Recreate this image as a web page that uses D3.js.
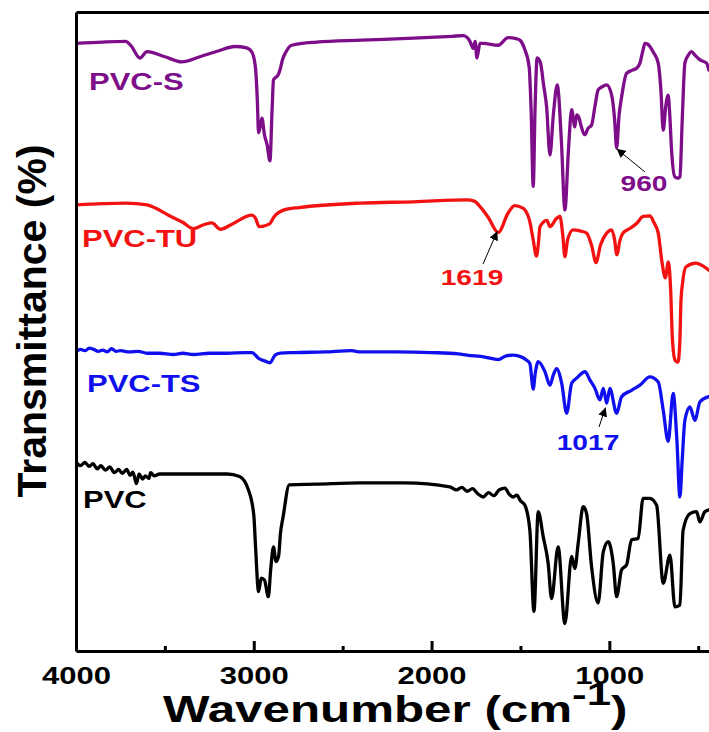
<!DOCTYPE html>
<html><head><meta charset="utf-8">
<script src="https://cdn.jsdelivr.net/npm/d3@7"></script>
<style>html,body{margin:0;padding:0;background:#fff;} svg{display:block;}</style>
</head><body><svg id="c" width="709" height="732"></svg>
<script>
// ---------- data ----------
const seriesNames  = ["PVC-S", "PVC-TU", "PVC-TS", "PVC"];
const seriesColors = ["#7e0d8a", "#f21212", "#1010ee", "#000000"];

// [wavenumber (cm-1), transmittance (a.u., offset)]
const pvcS = [[4000,95.1],[3850,95.3],[3720,95.4],[3690,94.7],[3640,92.8],[3601,93.8],[3500,93.0],[3405,92.2],[3303,93.0],[3200,93.9],[3106,94.6],[3040,94.4],[3010,93.7],[2991,91.4],[2980,86.2],[2973,81.1],[2962,82.3],[2954,83.4],[2940,80.8],[2925,79.2],[2909,76.7],[2897,84.7],[2889,89.4],[2875,89.8],[2864,90.1],[2850,91.2],[2839,92.5],[2820,93.7],[2787,94.8],[2647,95.3],[2393,95.6],[2100,95.9],[1885,96.2],[1821,96.3],[1784,95.4],[1766,94.3],[1755,95.4],[1745,92.8],[1728,95.1],[1709,95.1],[1625,94.8],[1569,96.0],[1520,95.8],[1503,95.6],[1475,94.1],[1451,91.4],[1440,84.7],[1428,72.7],[1418,84.7],[1406,92.8],[1387,92.0],[1370,88.6],[1353,85.2],[1334,77.6],[1315,83.9],[1293,88.6],[1270,80.0],[1250,69.0],[1230,78.4],[1212,84.7],[1194,82.0],[1184,83.9],[1170,83.4],[1160,82.3],[1137,80.8],[1120,81.8],[1100,82.3],[1080,85.4],[1063,87.8],[1040,88.3],[1015,88.6],[987,87.0],[970,83.1],[959,78.7],[945,83.9],[931,86.7],[903,90.4],[870,90.9],[847,91.2],[828,92.0],[810,94.1],[800,95.1],[785,95.0],[772,94.6],[750,93.6],[725,92.0],[710,87.8],[697,81.5],[682,85.4],[669,87.0],[660,83.9],[650,78.4],[631,74.2],[612,74.0],[603,74.2],[590,83.1],[575,92.0],[555,93.3],[537,93.8],[520,93.3],[490,92.5],[453,92.0],[440,90.9]];

const pvcTU = [[4000,69.8],[3850,70.0],[3720,70.1],[3600,69.8],[3560,69.4],[3480,68.2],[3400,67.1],[3340,66.1],[3282,66.7],[3235,67.0],[3188,66.0],[3122,66.8],[3010,68.2],[2990,67.7],[2970,66.4],[2913,66.8],[2885,68.0],[2820,69.1],[2745,69.4],[2400,70.1],[2100,70.3],[1800,70.6],[1760,70.4],[1720,69.3],[1680,67.8],[1625,65.5],[1570,68.5],[1533,69.7],[1486,69.3],[1449,67.4],[1428,64.3],[1410,61.8],[1400,63.5],[1390,66.4],[1351,67.4],[1334,66.4],[1297,67.7],[1278,68.0],[1262,65.1],[1250,61.7],[1235,64.3],[1204,65.9],[1160,65.7],[1128,65.4],[1100,63.5],[1075,60.8],[1050,63.5],[1015,65.4],[987,65.9],[970,64.3],[958,62.0],[940,64.3],[923,65.4],[880,66.2],[847,66.9],[810,68.0],[772,68.1],[750,67.1],[725,65.4],[703,60.7],[685,58.4],[668,60.9],[655,56.5],[645,48.7],[630,45.5],[614,45.2],[603,48.7],[597,54.9],[588,57.6],[570,60.1],[513,60.7],[470,60.2],[440,59.6]];

const pvcTS = [[4000,46.8],[3975,47.2],[3950,47.0],[3925,47.4],[3900,47.2],[3875,46.9],[3850,47.1],[3825,46.8],[3800,47.3],[3775,46.9],[3750,47.0],[3700,46.8],[3650,46.9],[3600,46.6],[3530,46.6],[3450,46.4],[3400,46.6],[3340,46.4],[3250,46.6],[3150,46.6],[3050,46.7],[3010,46.7],[2973,45.8],[2940,45.4],[2909,45.1],[2880,46.3],[2850,46.6],[2770,46.7],[2600,46.8],[2450,47.0],[2400,46.8],[2200,46.8],[2000,46.7],[1850,46.5],[1800,46.3],[1700,46.0],[1625,45.6],[1580,46.2],[1541,46.3],[1494,46.0],[1465,45.5],[1447,45.0],[1428,41.0],[1418,43.2],[1400,45.3],[1362,43.7],[1334,41.6],[1315,43.2],[1297,44.2],[1268,41.9],[1240,37.2],[1212,41.9],[1184,42.7],[1137,43.7],[1109,42.4],[1081,41.1],[1053,39.3],[1034,41.1],[1015,38.8],[997,41.1],[959,37.2],[931,39.8],[875,40.8],[828,41.6],[772,42.9],[725,42.1],[697,37.7],[669,32.8],[641,40.3],[620,33.0],[603,24.1],[590,29.9],[575,36.1],[547,38.2],[519,36.1],[490,39.0],[440,39.8]];

const pvc = [[4000,29.6],[3975,29.0],[3950,29.5],[3925,28.9],[3905,29.3],[3880,28.5],[3860,29.0],[3835,28.3],[3810,28.8],[3785,27.9],[3760,28.4],[3740,27.8],[3715,28.4],[3695,27.5],[3680,28.0],[3660,26.2],[3645,27.7],[3625,26.9],[3610,27.4],[3590,27.0],[3580,27.9],[3560,27.4],[3530,27.7],[3340,27.7],[3150,27.7],[3080,27.3],[3030,25.2],[3000,21.3],[2990,16.3],[2973,9.3],[2958,11.4],[2940,11.1],[2918,8.5],[2905,12.7],[2889,16.3],[2875,14.0],[2860,14.9],[2850,18.4],[2835,21.0],[2800,26.0],[2650,26.1],[2400,26.3],[2150,26.3],[1897,25.7],[1860,25.2],[1830,25.6],[1800,25.0],[1770,25.4],[1740,24.6],[1709,24.1],[1680,24.8],[1650,24.3],[1620,25.2],[1587,25.5],[1565,24.6],[1541,24.1],[1520,24.4],[1500,23.5],[1475,22.8],[1447,18.9],[1424,6.2],[1400,21.8],[1372,17.9],[1344,13.7],[1325,8.2],[1288,16.3],[1250,4.3],[1212,14.8],[1194,12.9],[1175,16.9],[1147,22.6],[1128,21.5],[1100,13.2],[1063,7.5],[1034,15.5],[1006,17.1],[978,13.7],[959,8.5],[931,12.7],[903,13.5],[875,17.4],[838,17.6],[810,23.9],[772,23.9],[734,22.8],[697,10.6],[659,15.0],[631,6.9],[603,7.2],[585,18.9],[547,21.5],[509,21.8],[491,20.2],[463,21.8],[440,22.1]];

const seriesData = [pvcS, pvcTU, pvcTS, pvc];

const majorTicks = [4000, 3000, 2000, 1000];
const minorTicks = [3500, 2500, 1500, 500];

const annotations = [
  {label: "960",  series: 0, wn: 959,  t: 78.6},
  {label: "1619", series: 1, wn: 1630, t: 65.7},
  {label: "1017", series: 2, wn: 1021, t: 38.1}
];

// ---------- layout ----------
const W = 709, H = 732;
const L = 76, T = 12, B = 651, R = 716;
const SX = 1.3;

const svg = d3.select("#c");
const x = d3.scaleLinear().domain([4000, 400]).range([L, R]);
const y = d3.scaleLinear().domain([0, 100]).range([B, T]);

const defs = svg.append("defs");
defs.append("clipPath").attr("id", "clip")
  .append("rect").attr("x", L).attr("y", T).attr("width", W - L).attr("height", B - T);

const line = d3.line().x(d => x(d[0])).y(d => y(d[1])).curve(d3.curveMonotoneX);
const gLines = svg.append("g").attr("clip-path", "url(#clip)");
seriesData.forEach((s, i) => {
  gLines.append("path").datum(s).attr("d", line)
    .attr("fill", "none").attr("stroke", seriesColors[i])
    .attr("stroke-width", 3.3).attr("stroke-linejoin", "round").attr("stroke-linecap", "round");
});

const font = "Arial, 'Liberation Sans', Helvetica, sans-serif";
const xAxisG = svg.append("g").attr("transform", `translate(0,${B})`)
  .call(d3.axisBottom(x).tickValues(majorTicks).tickSize(-10).tickSizeOuter(0).tickFormat(d3.format("d")));
xAxisG.select(".domain").attr("stroke-width", 3);
xAxisG.selectAll(".tick line").attr("stroke-width", 3);
xAxisG.selectAll(".tick text")
  .attr("y", 33).attr("dy", 0)
  .attr("font-family", font).attr("font-weight", "bold").attr("font-size", 23.5)
  .attr("fill", "#000")
  .attr("transform", "scale(1.32,1)");

const xMinorG = svg.append("g").attr("transform", `translate(0,${B})`)
  .call(d3.axisBottom(x).tickValues(minorTicks).tickSize(-5).tickSizeOuter(0).tickFormat(""));
xMinorG.select(".domain").remove();
xMinorG.selectAll(".tick line").attr("stroke-width", 3);

const yAxisG = svg.append("g").attr("transform", `translate(${L},0)`)
  .call(d3.axisLeft(y).tickValues([]).tickSizeOuter(0));
yAxisG.select(".domain").attr("stroke-width", 3);
const topAxisG = svg.append("g").attr("transform", `translate(0,${T})`)
  .call(d3.axisTop(x).tickValues([]).tickSizeOuter(0));
topAxisG.select(".domain").attr("stroke-width", 3);

const xt = svg.append("text")
  .attr("transform", "translate(163,722) scale(1.37,1)")
  .attr("font-family", font).attr("font-weight", "bold").attr("font-size", 36).attr("fill", "#000");
xt.append("tspan").text("Wavenumber (cm");
xt.append("tspan").attr("font-size", 32).attr("dy", -17).text("-1");
xt.append("tspan").attr("dy", 17).text(")");

svg.append("text")
  .attr("transform", "translate(46,321) rotate(-90)")
  .attr("text-anchor", "middle")
  .attr("font-family", font).attr("font-weight", "bold").attr("font-size", 41).attr("fill", "#000")
  .text("Transmittance (%)");

const labelPos = [[89, 90], [82, 247], [87, 392], [83, 508]];
seriesNames.forEach((n, i) => {
  svg.append("text")
    .attr("transform", `translate(${labelPos[i][0]},${labelPos[i][1]}) scale(1.29,1)`)
    .attr("font-family", font).attr("font-weight", "bold").attr("font-size", 24)
    .attr("fill", seriesColors[i]).text(n);
});

defs.append("marker").attr("id", "ah").attr("viewBox", "0 0 10 10")
  .attr("refX", 10).attr("refY", 5).attr("markerWidth", 9).attr("markerHeight", 9)
  .attr("markerUnits", "userSpaceOnUse").attr("orient", "auto")
  .append("path").attr("d", "M0,0 L10,5 L0,10 Z").attr("fill", "#000");

const annLayout = [
  {tx: 644, ty: 191, ax: 645, ay: 172},
  {tx: 472, ty: 285, ax: 483, ay: 264},
  {tx: 588, ty: 450, ax: 599, ay: 427}
];
annotations.forEach((a, i) => {
  const p = annLayout[i];
  svg.append("line")
    .attr("x1", p.ax).attr("y1", p.ay).attr("x2", x(a.wn)).attr("y2", y(a.t))
    .attr("stroke", "#000").attr("stroke-width", 1).attr("marker-end", "url(#ah)");
  svg.append("text")
    .attr("transform", `translate(${p.tx},${p.ty}) scale(1.28,1)`)
    .attr("text-anchor", "middle")
    .attr("font-family", font).attr("font-weight", "bold").attr("font-size", 22)
    .attr("fill", seriesColors[a.series]).text(a.label);
});
</script></body></html>
